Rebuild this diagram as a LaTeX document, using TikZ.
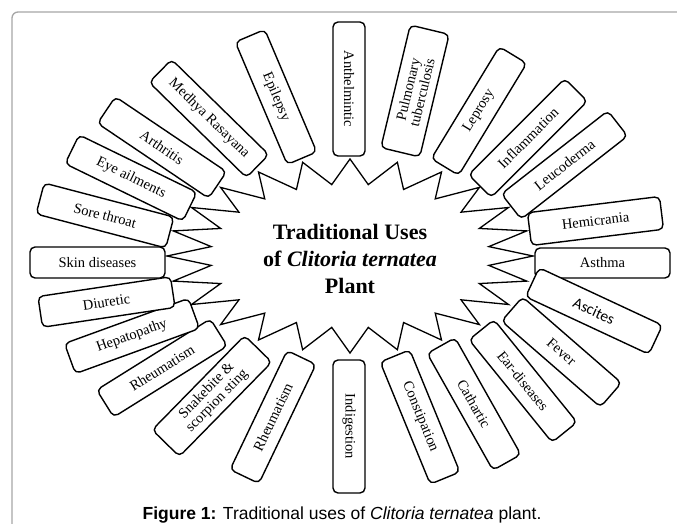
\documentclass[tikz,border=0pt]{standalone}
\usepackage{fontspec}
\setmainfont{Liberation Serif}
\newfontfamily\capfont{Liberation Sans}
\newfontfamily\carlito{Carlito}
\begin{document}
\begin{tikzpicture}[x=1pt,y=-1pt,
  frame/.style={draw=gray!70, line width=1.3pt, rounded corners=6pt},
  burst/.style={draw=black, line width=1.3pt, fill=white, line join=miter, miter limit=20},
  box/.style={draw=black, line width=1.4pt, rounded corners=5pt, fill=white, inner sep=0pt,
              align=center, font=\fontsize{14.5}{14.5}\selectfont},
  bx/.style 2 args={box, minimum width=#1, minimum height=#2},
  titletext/.style={font=\bfseries\fontsize{22}{27}\selectfont, align=center, inner sep=0pt},
  captext/.style={font=\capfont\fontsize{17.5}{20}\selectfont, anchor=base, inner sep=0pt}]
\useasboundingbox (0,0) rectangle (677,524);
\clip (0,0) rectangle (677,524);
\fill[white] (0,0) rectangle (677,524);
% frame
\draw[frame] (12,560) -- (12,12) -- (720,12);
% burst
\draw[burst] ({350+183*cos(0)},{256-97*sin(0)})
  \foreach \k in {0,...,22} {
    -- ({350+140*cos(15*\k+7.5)},{256-72*sin(15*\k+7.5)})
    -- ({350+183*cos(15*\k+15)},{256-97*sin(15*\k+15)})
  }
  -- ({350+140*cos(352.5)},{256-72*sin(352.5)}) -- cycle;
% title
\node[titletext] (title) at (350,258.5) {Traditional Uses\\of \textit{Clitoria ternatea}\\Plant};
% boxes
\node[bx={134pt}{32pt}, rotate=-90]   (anth) at (349,89)    {Anthelmintic};
\node[bx={126pt}{40pt}, rotate=76.5]  (pulm) at (415,91)    {Pulmonary\\tuberculosis};
\node[bx={131pt}{32pt}, rotate=58.7]  (lepr) at (479,111)   {Leprosy};
\node[bx={136pt}{32pt}, rotate=45]    (infl) at (528,138)   {Inflammation};
\node[bx={135pt}{32pt}, rotate=38]    (leuc) at (564.5,165) {Leucoderma};
\node[bx={133pt}{33pt}, rotate=7]     (hemi) at (595.5,221) {Hemicrania};
\node[bx={135pt}{30pt}]               (asth) at (602.5,263) {Asthma};
\node[bx={136pt}{32pt}, rotate=-25, font=\carlito\fontsize{15.5}{15.5}\selectfont] (asci) at (594,311) {Ascites};
\node[bx={131pt}{32pt}, rotate=-41]   (feve) at (561.5,352) {Fever};
\node[bx={132pt}{32pt}, rotate=-51]   (eard) at (523,381)   {Ear-diseases};
\node[bx={134pt}{32pt}, rotate=-60.6] (cath) at (474,404)   {Cathartic};
\node[bx={132pt}{32pt}, rotate=-67.7] (cons) at (420,417)   {Constipation};
\node[bx={133pt}{32pt}, rotate=-90]   (indi) at (349,426.5) {Indigestion};
\node[bx={132pt}{32pt}, rotate=64.4]  (rhea) at (273,417)   {Rheumatism};
\node[bx={132pt}{38pt}, rotate=45.6]  (snak) at (212,396)   {Snakebite \&\\scorpion sting};
\node[bx={134pt}{32pt}, rotate=32]    (rheb) at (162,368)   {Rheumatism};
\node[bx={132pt}{32pt}, rotate=20]    (hepa) at (132,336)   {Hepatopathy};
\node[bx={134pt}{31pt}, rotate=8.5]   (diur) at (106.5,302) {Diuretic};
\node[bx={135pt}{31pt}]               (skin) at (97.5,262.5){Skin diseases};
\node[bx={134pt}{32pt}, rotate=-14.7] (sore) at (105,215.5) {Sore throat};
\node[bx={131pt}{32pt}, rotate=-26]   (eyea) at (131,178)   {Eye ailments};
\node[bx={134pt}{32pt}, rotate=-34]   (arth) at (162,147.5) {Arthritis};
\node[bx={136pt}{32pt}, rotate=-44.4] (medh) at (209,118.5) {Medhya Rasayana};
\node[bx={133pt}{32pt}, rotate=-67]   (epil) at (276,97)    {Epilepsy};
% caption
\node[captext] (cap) at (342,519) {\textbf{Figure 1:} Traditional uses of \textit{Clitoria ternatea} plant.};
\end{tikzpicture}
\end{document}
